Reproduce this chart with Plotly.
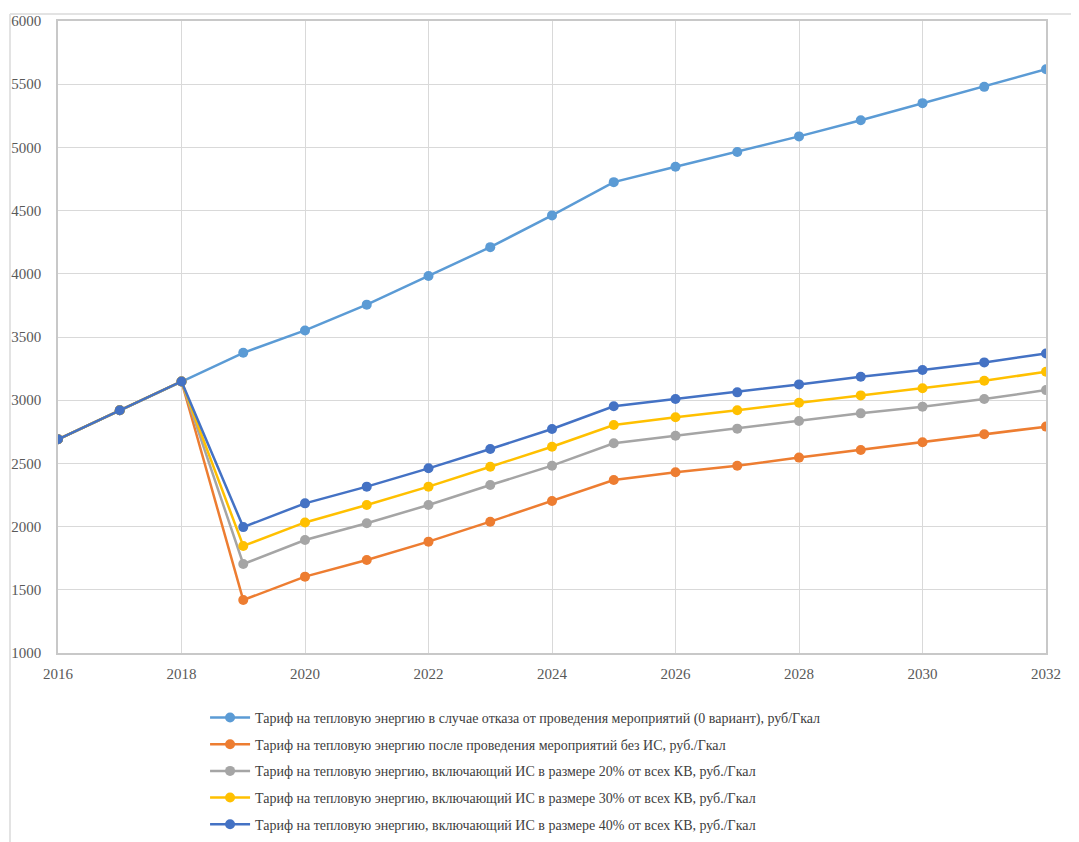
import plotly.graph_objects as go

years = list(range(2016, 2033))

tariff_no_measures = [2691, 2920, 3148, 3375, 3552, 3756, 3983, 4211, 4462, 4725, 4847, 4964, 5087, 5215, 5350, 5479, 5618]
tariff_no_is = [2691, 2920, 3148, 1419, 1604, 1736, 1881, 2039, 2203, 2369, 2430, 2482, 2546, 2606, 2667, 2730, 2791]
tariff_is20 = [2691, 2920, 3148, 1704, 1894, 2026, 2171, 2329, 2482, 2659, 2719, 2775, 2835, 2896, 2949, 3009, 3080]
tariff_is30 = [2691, 2920, 3148, 1847, 2033, 2171, 2316, 2474, 2632, 2804, 2865, 2920, 2980, 3038, 3094, 3154, 3225]
tariff_is40 = [2691, 2920, 3148, 1996, 2184, 2316, 2461, 2614, 2772, 2952, 3009, 3062, 3125, 3186, 3239, 3299, 3370]

names = [
    "Тариф на тепловую энергию в случае отказа от проведения мероприятий (0 вариант), руб/Гкал",
    "Тариф на тепловую энергию после проведения мероприятий без ИС, руб./Гкал",
    "Тариф на тепловую энергию, включающий ИС в размере 20% от всех КВ, руб./Гкал",
    "Тариф на тепловую энергию, включающий ИС в размере 30% от всех КВ, руб./Гкал",
    "Тариф на тепловую энергию, включающий ИС в размере 40% от всех КВ, руб./Гкал",
]
series = [tariff_no_measures, tariff_no_is, tariff_is20, tariff_is30, tariff_is40]
colors = ["#5B9BD5", "#ED7D31", "#A5A5A5", "#FFC000", "#4472C4"]

fig = go.Figure()
for i, (nm, vals, c) in enumerate(zip(names, series, colors)):
    fig.add_trace(go.Scatter(
        x=years, y=vals, name=nm, mode="lines+markers",
        line=dict(color=c, width=2.5),
        marker=dict(color=c, size=10),
        legendgroup=f"g{i}",
    ))

font_family = "Liberation Serif, Times New Roman, serif"
W, H = 1071, 834
fig.update_layout(
    width=W, height=H,
    margin=dict(l=50, r=33, t=13, b=189, autoexpand=False),
    paper_bgcolor="white", plot_bgcolor="white",
    font=dict(family=font_family, size=15, color="#595959"),
    showlegend=True,
    legend=dict(
        orientation="v", xref="container", x=0.184, xanchor="left",
        yref="container", y=0.168, yanchor="top",
        font=dict(family=font_family, size=14, color="#404040"),
        tracegroupgap=5.5, itemwidth=40,
    ),
    xaxis=dict(
        range=[2016, 2032], tickmode="linear", tick0=2016, dtick=2,
        showgrid=True, gridcolor="#D9D9D9", gridwidth=1,
        showline=True, linecolor="#C8C8C8", linewidth=1.5, mirror=True,
        zeroline=False, ticks="", ticklabelstandoff=6,
        tickfont=dict(size=15, color="#595959"),
    ),
    yaxis=dict(
        range=[1000, 6000], tickmode="linear", tick0=1000, dtick=500,
        showgrid=True, gridcolor="#D9D9D9", gridwidth=1,
        showline=True, linecolor="#C8C8C8", linewidth=1.5, mirror=True,
        zeroline=False, ticks="", ticklabelstandoff=12,
        tickfont=dict(size=15, color="#595959"),
    ),
    shapes=[
        dict(type="line", xref="paper", yref="paper",
             x0=-0.0486, x1=1.04, y0=1.011, y1=1.011,
             line=dict(color="#E3E3E3", width=2)),
        dict(type="line", xref="paper", yref="paper",
             x0=-0.0486, x1=-0.0486, y0=1.011, y1=-0.31,
             line=dict(color="#E3E3E3", width=2)),
    ],
)

fig.write_html("out.html")
